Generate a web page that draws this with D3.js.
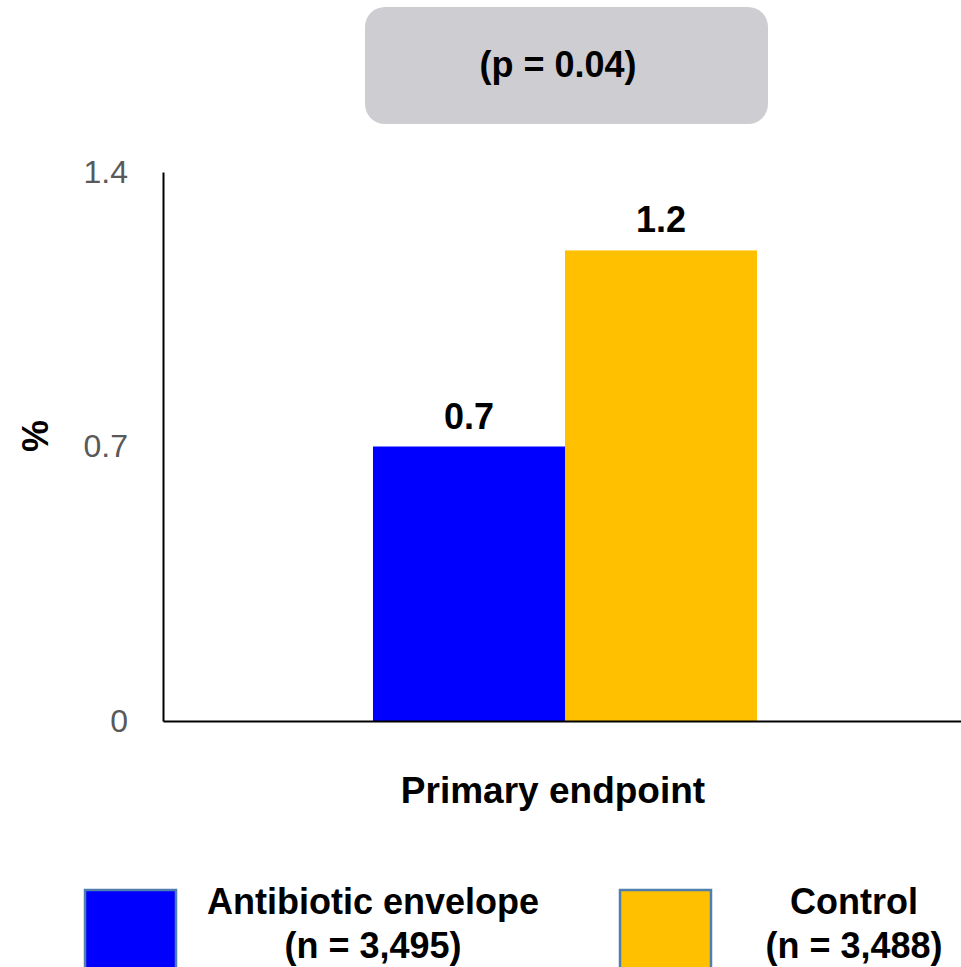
<!DOCTYPE html>
<html>
<head>
  <style>
    html, body { margin: 0; padding: 0; background: #fff; }
    svg { display: block; font-family: "Liberation Sans", Arial, sans-serif; }
    .tick-label { fill: #595959; font-size: 32px; }
    .bold { font-weight: bold; fill: #000; }
  </style>
</head>
<body>
  <svg id="chart" width="961" height="967"></svg>

  <script src="https://d3js.org/d3.v7.min.js"></script>
  <script>
    const categories = ["Primary endpoint"];
    const groups = ["Antibiotic envelope", "Control"];
    const groupN = ["(n = 3,495)", "(n = 3,488)"];
    const values = [0.7, 1.2];
    const colors = ["#0000FF", "#FFC000"];
    const yTicks = [0, 0.7, 1.4];
    const pText = "(p = 0.04)";

    const margin = { top: 172, right: -6, bottom: 246, left: 163 };
    const width = 961 - margin.left - margin.right;
    const height = 967 - margin.top - margin.bottom;

    const svg = d3.select("#chart");
    const g = svg.append("g")
                 .attr("transform", `translate(${margin.left},${margin.top})`);

    const x0 = d3.scaleBand().domain(categories).range([0, width]).padding(0.3535);
    const x1 = d3.scaleBand().domain(groups).range([0, x0.bandwidth()]);
    const y = d3.scaleLinear().domain([0, 1.4]).range([height, 0]);

    // bars
    const data = groups.map((k, i) => ({ cat: categories[0], key: k, value: values[i], color: colors[i] }));

    g.selectAll(".bar")
     .data(data)
     .enter()
     .append("rect")
     .attr("class", "bar")
     .attr("x", d => x0(d.cat) + x1(d.key))
     .attr("y", d => y(d.value))
     .attr("width", x1.bandwidth())
     .attr("height", d => height - y(d.value))
     .attr("fill", d => d.color);

    g.selectAll(".value-label")
     .data(data)
     .enter()
     .append("text")
     .attr("class", "bold")
     .attr("x", d => x0(d.cat) + x1(d.key) + x1.bandwidth() / 2)
     .attr("y", d => y(d.value) - 18)
     .attr("text-anchor", "middle")
     .style("font-size", "36px")
     .text(d => d.value.toFixed(1));

    // y axis
    const yAxis = d3.axisLeft(y).tickValues(yTicks).tickSize(0).tickPadding(35)
                    .tickFormat(d => d === 0 ? "0" : d.toFixed(1));
    const ya = g.append("g").call(yAxis);
    ya.select(".domain").attr("stroke", "#000").attr("stroke-width", 2);
    ya.selectAll("text").attr("class", "tick-label").attr("font-family", null).attr("font-size", null);

    // x axis
    const xAxis = d3.axisBottom(x0).tickSize(0).tickPadding(0).tickFormat("");
    const xa = g.append("g").attr("transform", `translate(0,${height})`).call(xAxis);
    xa.select(".domain").attr("stroke", "#000").attr("stroke-width", 2);

    g.append("text")
     .attr("class", "bold")
     .attr("x", x0(categories[0]) + x0.bandwidth() / 2 - 12)
     .attr("y", height + 82)
     .attr("text-anchor", "middle")
     .style("font-size", "37px")
     .text(categories[0]);

    // y title
    svg.append("text")
       .attr("class", "bold")
       .attr("transform", "translate(48,436) rotate(-90)")
       .attr("text-anchor", "middle")
       .style("font-size", "36px")
       .text("%");

    // p value box
    svg.append("rect")
       .attr("x", 365).attr("y", 7)
       .attr("width", 403).attr("height", 117)
       .attr("rx", 20).attr("ry", 20)
       .attr("fill", "#CDCDD2");

    svg.append("text")
       .attr("class", "bold")
       .attr("x", 558).attr("y", 77)
       .attr("text-anchor", "middle")
       .style("font-size", "36px")
       .text(pText);

    // legend
    const legendX = [85, 620];
    const legendTextX = [373, 854];
    const legend = svg.selectAll(".legend")
                      .data(data)
                      .enter()
                      .append("g")
                      .attr("class", "legend");

    legend.append("rect")
          .attr("x", (d, i) => legendX[i])
          .attr("y", 890)
          .attr("width", 91)
          .attr("height", 90)
          .attr("fill", d => d.color)
          .attr("stroke", "#4F7FB0")
          .attr("stroke-width", 2.5);

    legend.append("text")
          .attr("class", "bold")
          .attr("x", (d, i) => legendTextX[i])
          .attr("y", 914)
          .attr("text-anchor", "middle")
          .style("font-size", "36px")
          .text(d => d.key);

    legend.append("text")
          .attr("class", "bold")
          .attr("x", (d, i) => legendTextX[i])
          .attr("y", 958)
          .attr("text-anchor", "middle")
          .style("font-size", "36px")
          .text((d, i) => groupN[i]);
  </script>
</body>
</html>
